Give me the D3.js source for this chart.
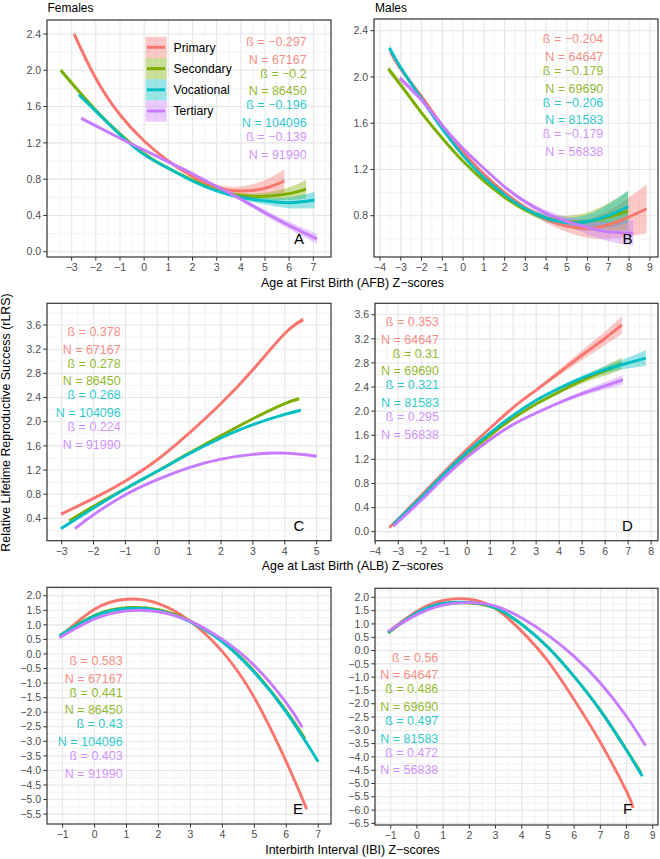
<!DOCTYPE html>
<html><head><meta charset="utf-8">
<script src="https://cdn.jsdelivr.net/npm/d3@7"></script>
<style>body{margin:0;background:#fff} svg{display:block} text{font-family:"Liberation Sans",Arial,sans-serif}</style>
</head><body><svg id="c" width="660" height="859"></svg>
<script>
const groups = ["Primary","Secondary","Vocational","Tertiary"];
const colors = ["#F8766D","#7CAE00","#00BFC4","#C77CFF"];

// Each point: [z-score, rLRS, ribbon half-width]
// A: Age at first birth, females
const afbFemPrimary   = [[-2.9,2.40,0.04],[-2,1.91,0.03],[-1,1.51,0.02],[0,1.22,0.015],[1,1.0,0.015],[2,0.83,0.02],[3,0.71,0.03],[4,0.67,0.05],[5,0.70,0.09],[5.8,0.78,0.13]];
const afbFemSecondary = [[-3.45,2.0,0.03],[-3,1.86,0.025],[-2,1.56,0.02],[-1,1.3,0.015],[0,1.08,0.01],[1,0.92,0.01],[2,0.79,0.01],[3,0.68,0.015],[4,0.62,0.025],[5,0.61,0.04],[6,0.64,0.07],[6.7,0.69,0.1]];
const afbFemVocational= [[-2.7,1.73,0.025],[-2,1.55,0.02],[-1,1.29,0.015],[0,1.07,0.01],[1,0.92,0.01],[2,0.78,0.01],[3,0.67,0.015],[4,0.6,0.025],[5,0.56,0.04],[6,0.54,0.06],[7.05,0.57,0.09]];
const afbFemTertiary  = [[-2.6,1.47,0.02],[-1,1.25,0.01],[0,1.12,0.01],[1,0.99,0.01],[2,0.86,0.01],[3,0.72,0.01],[4,0.58,0.02],[5,0.43,0.03],[6,0.29,0.04],[7.15,0.14,0.055]];
const afbFemBeta = ["−0.297","−0.2","−0.196","−0.139"];
const afbFemN    = ["67167","86450","104096","91990"];
const afbFemXTicks = [-3,-2,-1,0,1,2,3,4,5,6,7];
const afbFemYTicks = [0,0.4,0.8,1.2,1.6,2.0,2.4];

// B: Age at first birth, males
const afbMalPrimary   = [[-3.5,2.22,0.03],[-3,2.07,0.025],[-2,1.83,0.02],[-1,1.58,0.015],[0,1.35,0.01],[1,1.16,0.01],[2,1.0,0.015],[3,0.87,0.02],[4,0.77,0.03],[5,0.71,0.05],[6,0.69,0.08],[7,0.72,0.12],[8,0.79,0.17],[8.84,0.86,0.21]];
const afbMalSecondary = [[-3.6,2.07,0.03],[-3,1.93,0.025],[-2,1.69,0.02],[-1,1.47,0.015],[0,1.27,0.01],[1,1.1,0.01],[2,0.96,0.015],[3,0.85,0.02],[4,0.78,0.03],[5,0.75,0.05],[6,0.75,0.08],[7,0.79,0.12],[7.95,0.84,0.17]];
const afbMalVocational= [[-3.55,2.25,0.03],[-3,2.08,0.025],[-2,1.81,0.02],[-1,1.55,0.015],[0,1.32,0.01],[1,1.13,0.01],[2,0.98,0.015],[3,0.86,0.02],[4,0.78,0.03],[5,0.74,0.04],[6,0.75,0.06],[7,0.8,0.1],[7.95,0.88,0.14]];
const afbMalTertiary  = [[-3.05,1.99,0.03],[-2,1.80,0.02],[-1,1.58,0.015],[0,1.38,0.01],[1,1.21,0.01],[2,1.05,0.015],[3,0.92,0.02],[4,0.82,0.03],[5,0.75,0.04],[6,0.70,0.06],[7,0.66,0.08],[8.2,0.65,0.11]];
const afbMalBeta = ["−0.204","−0.179","−0.206","−0.179"];
const afbMalN    = ["64647","69690","81583","56838"];
const afbMalXTicks = [-4,-3,-2,-1,0,1,2,3,4,5,6,7,8,9];
const afbMalYTicks = [0.8,1.2,1.6,2.0,2.4];

// C: Age at last birth, females
const albFemPrimary   = [[-3.02,0.47,0.02],[-2,0.73,0.015],[-1,1.02,0.01],[0,1.37,0.01],[1,1.81,0.01],[2,2.30,0.015],[3,2.86,0.02],[4,3.46,0.03],[4.58,3.69,0.04]];
const albFemSecondary = [[-2.76,0.36,0.02],[-2,0.6,0.015],[-1,0.89,0.01],[0,1.18,0.01],[1,1.48,0.01],[2,1.77,0.01],[3,2.05,0.015],[4,2.3,0.02],[4.45,2.38,0.03]];
const albFemVocational= [[-3.02,0.23,0.02],[-2,0.57,0.015],[-1,0.89,0.01],[0,1.18,0.01],[1,1.47,0.01],[2,1.73,0.01],[3,1.95,0.015],[4,2.12,0.02],[4.5,2.19,0.03]];
const albFemTertiary  = [[-2.58,0.23,0.02],[-2,0.46,0.015],[-1,0.79,0.01],[0,1.04,0.01],[1,1.24,0.01],[2,1.38,0.01],[3,1.46,0.015],[4,1.48,0.02],[5,1.43,0.03]];
const albFemBeta = ["0.378","0.278","0.268","0.224"];
const albFemN    = ["67167","86450","104096","91990"];
const albFemXTicks = [-3,-2,-1,0,1,2,3,4,5];
const albFemYTicks = [0.4,0.8,1.2,1.6,2.0,2.4,2.8,3.2,3.6];

// D: Age at last birth, males
const albMalPrimary   = [[-3.39,0.07,0.03],[-3,0.21,0.025],[-2,0.6,0.02],[-1,0.99,0.015],[0,1.37,0.01],[1,1.72,0.015],[2,2.06,0.02],[3,2.35,0.03],[4,2.64,0.05],[5,2.93,0.08],[6,3.21,0.11],[6.73,3.43,0.145]];
const albMalSecondary = [[-3.22,0.11,0.02],[-2,0.55,0.015],[-1,0.94,0.01],[0,1.29,0.01],[1,1.6,0.01],[2,1.88,0.015],[3,2.12,0.02],[4,2.32,0.03],[5,2.51,0.05],[6,2.67,0.08],[6.72,2.79,0.1]];
const albMalVocational= [[-3.22,0.12,0.02],[-2,0.57,0.015],[-1,0.96,0.01],[0,1.32,0.01],[1,1.64,0.01],[2,1.93,0.015],[3,2.18,0.02],[4,2.38,0.03],[5,2.55,0.04],[6,2.69,0.06],[7,2.8,0.09],[7.77,2.88,0.13]];
const albMalTertiary  = [[-3.22,0.09,0.02],[-2,0.52,0.015],[-1,0.9,0.01],[0,1.24,0.01],[1,1.53,0.01],[2,1.78,0.015],[3,1.97,0.02],[4,2.14,0.03],[5,2.29,0.04],[6,2.42,0.06],[6.77,2.52,0.08]];
const albMalBeta = ["0.353","0.31","0.321","0.295"];
const albMalN    = ["64647","69690","81583","56838"];
const albMalXTicks = [-4,-3,-2,-1,0,1,2,3,4,5,6,7,8];
const albMalYTicks = [0,0.4,0.8,1.2,1.6,2.0,2.4,2.8,3.2,3.6];

// E: Interbirth interval, females
const ibiFemPrimary   = [[-1.05,0.62,0.02],[0,1.54,0.01],[1,1.88,0.01],[2,1.73,0.01],[3,1.12,0.01],[4,0.08,0.02],[5,-1.5,0.03],[6,-3.7,0.04],[6.64,-5.33,0.06]];
const ibiFemSecondary = [[-1.1,0.63,0.02],[0,1.33,0.01],[1,1.59,0.01],[2,1.52,0.01],[3,1.13,0.01],[4,0.43,0.02],[5,-0.6,0.03],[6,-1.96,0.04],[6.58,-2.9,0.05]];
const ibiFemVocational= [[-1.1,0.62,0.02],[0,1.3,0.01],[1,1.56,0.01],[2,1.49,0.01],[3,1.1,0.01],[4,0.42,0.02],[5,-0.63,0.03],[6,-2.0,0.04],[7,-3.7,0.05]];
const ibiFemTertiary  = [[-1.1,0.56,0.02],[0,1.2,0.01],[1,1.48,0.01],[2,1.45,0.01],[3,1.12,0.01],[4,0.5,0.02],[5,-0.4,0.03],[6,-1.68,0.04],[6.5,-2.52,0.05]];
const ibiFemBeta = ["0.583","0.441","0.43","0.403"];
const ibiFemN    = ["67167","86450","104096","91990"];
const ibiFemXTicks = [-1,0,1,2,3,4,5,6,7];
const ibiFemYTicks = [-5.5,-5,-4.5,-4,-3.5,-3,-2.5,-2,-1.5,-1,-0.5,0,0.5,1,1.5,2];

// F: Interbirth interval, males
const ibiMalPrimary   = [[-1.1,0.7,0.02],[0,1.48,0.01],[1,1.88,0.01],[2,1.93,0.01],[3,1.58,0.01],[4,0.72,0.02],[5,-0.4,0.03],[6,-1.85,0.04],[7,-3.45,0.05],[8,-5.3,0.06],[8.24,-5.92,0.07]];
const ibiMalSecondary = [[-1.1,0.66,0.02],[0,1.4,0.01],[1,1.74,0.01],[2,1.79,0.01],[3,1.59,0.01],[4,0.98,0.02],[5,0.12,0.03],[6,-0.98,0.04],[7,-2.25,0.05],[8,-3.74,0.06],[8.55,-4.6,0.07]];
const ibiMalVocational= [[-1.1,0.68,0.02],[0,1.42,0.01],[1,1.77,0.01],[2,1.81,0.01],[3,1.6,0.01],[4,0.98,0.02],[5,0.12,0.03],[6,-0.98,0.04],[7,-2.25,0.05],[8,-3.75,0.06],[8.6,-4.72,0.07]];
const ibiMalTertiary  = [[-1.1,0.72,0.02],[0,1.35,0.01],[1,1.71,0.01],[2,1.8,0.01],[3,1.67,0.01],[4,1.22,0.02],[5,0.58,0.03],[6,-0.22,0.04],[7,-1.22,0.05],[8,-2.48,0.06],[8.72,-3.57,0.07]];
const ibiMalBeta = ["0.56","0.486","0.497","0.472"];
const ibiMalN    = ["64647","69690","81583","56838"];
const ibiMalXTicks = [-1,0,1,2,3,4,5,6,7,8,9];
const ibiMalYTicks = [-6.5,-6,-5.5,-5,-4.5,-4,-3.5,-3,-2.5,-2,-1.5,-1,-0.5,0,0.5,1,1.5,2];

const panelTitles = ["Females","Males"];
const xTitles = ["Age at First Birth (AFB) Z\u2212scores","Age at Last Birth (ALB) Z\u2212scores","Interbirth Interval (IBI) Z\u2212scores"];
const yTitle = "Relative Lifetime Reproductive Success (rLRS)";

// ---------- layout ----------
const panels = [
  {letter:"A", x0:47, x1:331, y0:20, y1:257, xd:[-4.02,7.73], yd:[-0.058,2.554], xt:afbFemXTicks, yt:afbFemYTicks,
   series:[afbFemPrimary,afbFemSecondary,afbFemVocational,afbFemTertiary], beta:afbFemBeta, n:afbFemN, ann:[306.7,41.7], lp:[299,244], legend:true},
  {letter:"B", x0:374, x1:658, y0:19, y1:257, xd:[-4.29,9.39], yd:[0.443,2.501], xt:afbMalXTicks, yt:afbMalYTicks,
   series:[afbMalPrimary,afbMalSecondary,afbMalVocational,afbMalTertiary], beta:afbMalBeta, n:afbMalN, ann:[603.3,39], lp:[627.5,244]},
  {letter:"C", x0:47, x1:331, y0:303.3, y1:540.7, xd:[-3.46,5.45], yd:[0.03,3.96], xt:albFemXTicks, yt:albFemYTicks,
   series:[albFemPrimary,albFemSecondary,albFemVocational,albFemTertiary], beta:albFemBeta, n:albFemN, ann:[120.7,331.7], lp:[299,530.7]},
  {letter:"D", x0:375, x1:658, y0:303.3, y1:540.7, xd:[-4.01,8.3], yd:[-0.15,3.79], xt:albMalXTicks, yt:albMalYTicks,
   series:[albMalPrimary,albMalSecondary,albMalVocational,albMalTertiary], beta:albMalBeta, n:albMalN, ann:[439,321.7], lp:[627.5,530.7]},
  {letter:"E", x0:47, x1:331, y0:587.3, y1:824, xd:[-1.49,7.40], yd:[-5.84,2.29], xt:ibiFemXTicks, yt:ibiFemYTicks,
   series:[ibiFemPrimary,ibiFemSecondary,ibiFemVocational,ibiFemTertiary], beta:ibiFemBeta, n:ibiFemN, ann:[122.7,660.7], lp:[298,814.3]},
  {letter:"F", x0:375, x1:658, y0:588.3, y1:825, xd:[-1.6,9.2], yd:[-6.56,2.34], xt:ibiMalXTicks, yt:ibiMalYTicks,
   series:[ibiMalPrimary,ibiMalSecondary,ibiMalVocational,ibiMalTertiary], beta:ibiMalBeta, n:ibiMalN, ann:[438.3,657.3], lp:[627.5,814.3]}
];
const annOffsets = [0,17.6,31.6,49.2,63.4,81,95,112.6];

const svg = d3.select("#c");
const fmtX = d3.format("d");
const fmtY = d3.format(".1f");

function minors(ticks, dom){
  const step = ticks[1]-ticks[0];
  const out = [];
  for (let i=-1;i<ticks.length;i++){
    const v = (i<0 ? ticks[0]-step/2 : ticks[i]+step/2);
    if (v>dom[0] && v<dom[1]) out.push(v);
  }
  return out;
}

panels.forEach((p,pi)=>{
  const x = d3.scaleLinear().domain(p.xd).range([p.x0,p.x1]);
  const y = d3.scaleLinear().domain(p.yd).range([p.y1,p.y0]);
  const g = svg.append("g");
  const clipId = "clip"+pi;
  g.append("clipPath").attr("id",clipId).append("rect")
    .attr("x",p.x0).attr("y",p.y0).attr("width",p.x1-p.x0).attr("height",p.y1-p.y0);
  g.append("rect").attr("x",p.x0).attr("y",p.y0).attr("width",p.x1-p.x0).attr("height",p.y1-p.y0).attr("fill","#fff");
  // minor grid
  const mg = g.append("g").attr("stroke","#EBEBEB").attr("stroke-width",0.6);
  minors(p.xt,p.xd).forEach(v=>mg.append("line").attr("x1",x(v)).attr("x2",x(v)).attr("y1",p.y0).attr("y2",p.y1));
  minors(p.yt,p.yd).forEach(v=>mg.append("line").attr("y1",y(v)).attr("y2",y(v)).attr("x1",p.x0).attr("x2",p.x1));
  // major grid
  const Mg = g.append("g").attr("stroke","#E6E6E6").attr("stroke-width",1.1);
  p.xt.forEach(v=>Mg.append("line").attr("x1",x(v)).attr("x2",x(v)).attr("y1",p.y0).attr("y2",p.y1));
  p.yt.forEach(v=>Mg.append("line").attr("y1",y(v)).attr("y2",y(v)).attr("x1",p.x0).attr("x2",p.x1));

  const dg = g.append("g").attr("clip-path",`url(#${clipId})`);
  const area = d3.area().x(d=>x(d[0])).y0(d=>y(d[1]-d[2])).y1(d=>y(d[1]+d[2])).curve(d3.curveNatural);
  const line = d3.line().x(d=>x(d[0])).y(d=>y(d[1])).curve(d3.curveNatural);
  p.series.forEach((s,i)=>{
    dg.append("path").attr("d",area(s)).attr("fill",colors[i]).attr("fill-opacity",0.4);
  });
  p.series.forEach((s,i)=>{
    dg.append("path").attr("d",line(s)).attr("fill","none").attr("stroke",colors[i]).attr("stroke-width",2.9);
  });

  // annotations
  p.beta.forEach((b,i)=>{
    g.append("text").attr("x",p.ann[0]).attr("y",p.ann[1]+annOffsets[2*i]).attr("dy","0.35em")
      .attr("text-anchor","end").attr("font-size","12.5px").attr("fill",colors[i]).attr("fill-opacity",0.85)
      .text("\u00DF = "+b);
    g.append("text").attr("x",p.ann[0]).attr("y",p.ann[1]+annOffsets[2*i+1]).attr("dy","0.35em")
      .attr("text-anchor","end").attr("font-size","12.5px").attr("fill",colors[i]).attr("fill-opacity",0.85)
      .text("N = "+p.n[i]);
  });
  g.append("text").attr("x",p.lp[0]).attr("y",p.lp[1]).attr("text-anchor","middle")
    .attr("font-size","15px").attr("fill","#000").text(p.letter);

  // border
  g.append("rect").attr("x",p.x0).attr("y",p.y0).attr("width",p.x1-p.x0).attr("height",p.y1-p.y0)
    .attr("fill","none").attr("stroke","#333").attr("stroke-width",1.2);
  // ticks
  const tg = g.append("g").attr("stroke","#333").attr("stroke-width",1);
  p.xt.forEach(v=>tg.append("line").attr("x1",x(v)).attr("x2",x(v)).attr("y1",p.y1).attr("y2",p.y1+3.7));
  p.yt.forEach(v=>tg.append("line").attr("y1",y(v)).attr("y2",y(v)).attr("x1",p.x0-3.7).attr("x2",p.x0));
  p.xt.forEach(v=>g.append("text").attr("x",x(v)).attr("y",p.y1+14.3).attr("text-anchor","middle")
    .attr("font-size","10.5px").attr("fill","#4D4D4D").text(fmtX(v)));
  p.yt.forEach(v=>g.append("text").attr("x",p.x0-6).attr("y",y(v)).attr("dy","0.35em").attr("text-anchor","end")
    .attr("font-size","10.5px").attr("fill","#4D4D4D").text(fmtY(v)));

  if (p.legend){
    const lg = g.append("g");
    groups.forEach((name,i)=>{
      const ky = 36.7 + i*21.25;
      lg.append("rect").attr("x",145.5).attr("y",ky).attr("width",21.3).attr("height",21.25)
        .attr("fill",colors[i]).attr("fill-opacity",0.4);
      lg.append("line").attr("x1",147).attr("x2",165).attr("y1",ky+10.6).attr("y2",ky+10.6)
        .attr("stroke",colors[i]).attr("stroke-width",2.9);
      lg.append("text").attr("x",173.5).attr("y",ky+10.6).attr("dy","0.35em").attr("font-size","12.2px")
        .attr("fill","#000").text(name);
    });
  }
});

svg.append("text").attr("x",47.5).attr("y",11.5).attr("font-size","12px").text(panelTitles[0]);
svg.append("text").attr("x",375).attr("y",11.5).attr("font-size","12px").text(panelTitles[1]);
[286.5,570,853.5].forEach((yy,i)=>svg.append("text").attr("x",352.5).attr("y",yy).attr("text-anchor","middle")
  .attr("font-size","12.4px").attr("fill","#000").text(xTitles[i]));
svg.append("text").attr("transform","translate(10.3,422.5) rotate(-90)").attr("text-anchor","middle")
  .attr("font-size","12.4px").attr("fill","#000").text(yTitle);
</script></body></html>
